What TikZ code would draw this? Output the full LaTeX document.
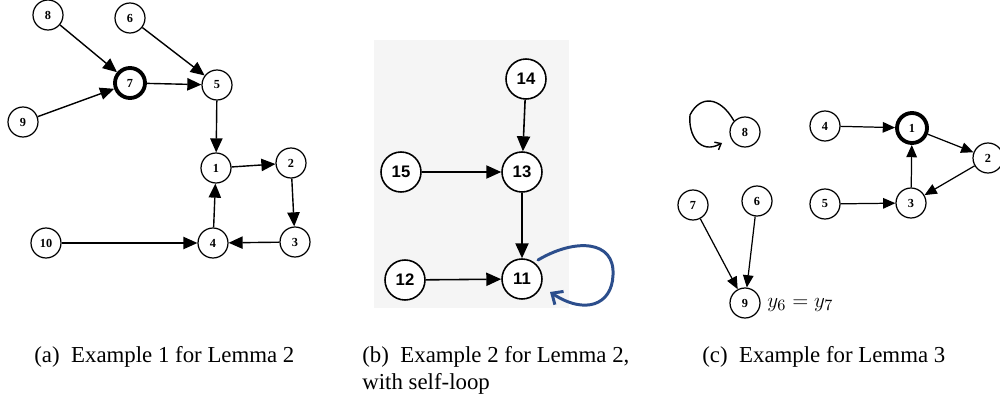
\documentclass[tikz,border=0pt]{standalone}
\usepackage{fontspec}
\setmainfont{Liberation Serif}
\newfontfamily\captfont{Liberation Serif}
\newfontfamily\boxfont{Liberation Sans}
\usetikzlibrary{arrows.meta}

\definecolor{loopblue}{RGB}{44,78,140}
\definecolor{panelgray}{RGB}{245,245,245}

\tikzset{
  vtx/.style={circle, draw, fill=white, line width=0.7pt, minimum size=0.6cm, inner sep=0pt,
    font=\captfont\fontsize{7}{7}\selectfont\bfseries},
  vtxb/.style={vtx, minimum size=0.8cm, line width=0.9pt,
    font=\boxfont\fontsize{9.5}{10}\selectfont\bfseries},
  root/.style={line width=2.2pt},
  edge/.style={-{Triangle[length=8pt,width=7pt]}, line width=0.8pt},
  edgeb/.style={-{Triangle[length=8.5pt,width=7.5pt]}, line width=0.9pt},
  edgec/.style={-{Triangle[length=7pt,width=6pt]}, line width=0.7pt},
  capt/.style={anchor=west, inner sep=0pt, font=\captfont\fontsize{13}{15.5}\selectfont, align=left}
}

\begin{document}
\begin{tikzpicture}[x=0.02cm, y=-0.02cm]
\useasboundingbox (0,0) rectangle (1000,402);

% (a)
\node[vtx] (a8) at (48,15) {8};
\node[vtx] (a6) at (130,18) {6};
\node[vtx, root] (a7) at (130,83) {7};
\node[vtx] (a5) at (217,85) {5};
\node[vtx] (a9) at (23,122) {9};
\node[vtx] (a1) at (216,168) {1};
\node[vtx] (a2) at (291,163) {2};
\node[vtx] (a10) at (46,243) {10};
\node[vtx] (a4) at (213,243) {4};
\node[vtx] (a3) at (295,242) {3};
\draw[edge] (a8) -- (a7);
\draw[edge] (a9) -- (a7);
\draw[edge] (a6) -- (a5);
\draw[edge] (a7) -- (a5);
\draw[edge] (a5) -- (a1);
\draw[edge] (a1) -- (a2);
\draw[edge] (a2) -- (a3);
\draw[edge] (a3) -- (a4);
\draw[edge] (a10) -- (a4);
\draw[edge] (a4) -- (a1);

% (b)
\fill[panelgray] (374,40) rectangle (569,308);
\node[vtxb] (b14) at (526,79) {14};
\node[vtxb] (b15) at (401,172) {15};
\node[vtxb] (b13) at (522,172) {13};
\node[vtxb] (b12) at (405,280) {12};
\node[vtxb] (b11) at (522,279) {11};
\draw[edgeb] (b14) -- (b13);
\draw[edgeb] (b15) -- (b13);
\draw[edgeb] (b13) -- (b11);
\draw[edgeb] (b12) -- (b11);
\coordinate (bend) at (550,292);
\draw[loopblue, line width=1.7pt, line cap=round, -{Straight Barb[length=5pt,width=9pt]}]
  (538,260) .. controls (575,238) and (615,240) .. (613,275)
  .. controls (612,305) and (585,315) .. (bend);

% (c)
\node[vtx] (c8) at (745,132) {8};
\node[vtx] (c4) at (825,126) {4};
\node[vtx, root] (c1) at (912,128) {1};
\node[vtx] (c2) at (988,158) {2};
\node[vtx] (c3) at (911,203) {3};
\node[vtx] (c5) at (825,204) {5};
\node[vtx] (c7) at (693,205) {7};
\node[vtx] (c6) at (757,201) {6};
\node[vtx] (c9) at (745,303) {9};
\draw[edgec] (c4) -- (c1);
\draw[edgec] (c1) -- (c2);
\draw[edgec] (c2) -- (c3);
\draw[edgec] (c3) -- (c1);
\draw[edgec] (c5) -- (c3);
\draw[edgec] (c7) -- (c9);
\draw[edgec] (c6) -- (c9);
\coordinate (cend) at (722,143);
\draw[line width=0.8pt, -{Straight Barb[length=3pt,width=5pt]}]
  (c8.north west) .. controls (720,96) and (700,95) .. (690,115)
  .. controls (688,135) and (700,155) .. (cend);
\node[anchor=west, inner sep=0pt, font=\fontsize{12.5}{14}\selectfont] (ceq) at (767,305) {$y_6 = y_7$};

% captions
\node[capt] (capa) at (34,357) {(a)\enspace Example 1 for Lemma 2};
\node[capt, anchor=north west] (capb) at (362,346) {(b)\enspace Example 2 for Lemma 2,\\with self-loop};
\node[capt] (capc) at (702,357) {(c)\enspace Example for Lemma 3};
\end{tikzpicture}
\end{document}
